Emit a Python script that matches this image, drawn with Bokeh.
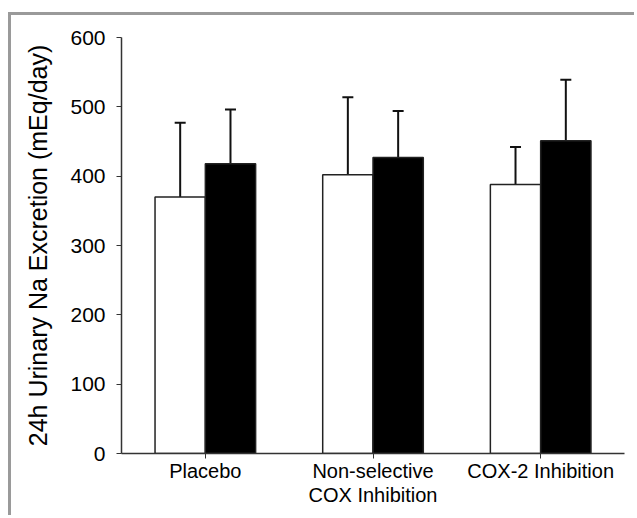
from bokeh.plotting import figure
from bokeh.models import ColumnDataSource, Whisker, TeeHead, FixedTicker
from bokeh.transform import dodge
from bokeh.embed import file_html
from bokeh.resources import INLINE

categories = ["Placebo", "Non-selective\nCOX Inhibition", "COX-2 Inhibition"]
white_vals = [370, 402, 388]
white_err = [477, 514, 442]
black_vals = [418, 427, 451]
black_err = [496, 494, 539]
y_ticks = [0, 100, 200, 300, 400, 500, 600]

src = ColumnDataSource(dict(cat=categories, w=white_vals, we=white_err,
                            b=black_vals, be=black_err))

p = figure(x_range=categories, y_range=(0, 600), width=626, height=503,
           output_backend="svg", toolbar_location=None,
           min_border_left=110, min_border_right=13, min_border_top=22,
           min_border_bottom=65)
p.styles = {"border-left": "3px solid #9a9a9a", "border-top": "3px solid #9a9a9a",
            "margin-top": "12px", "margin-left": "8px"}
p.x_range.range_padding = 0
p.outline_line_color = None
p.grid.visible = False

p.vbar(x=dodge("cat", -0.15, range=p.x_range), top="w", width=0.3, source=src,
       fill_color="white", line_color="#222222", line_width=1.5)
p.vbar(x=dodge("cat", 0.15, range=p.x_range), top="b", width=0.3, source=src,
       fill_color="black", line_color="#222222", line_width=1.5)

for off, lo, hi in [(-0.15, "w", "we"), (0.15, "b", "be")]:
    wk = Whisker(base=dodge("cat", off, range=p.x_range), lower=lo, upper=hi,
                 source=src, line_color="#111111", line_width=2,
                 upper_head=TeeHead(size=11, line_width=2, line_color="#111111"),
                 lower_head=None)
    p.add_layout(wk)

p.yaxis.ticker = FixedTicker(ticks=y_ticks)
p.yaxis.minor_tick_line_color = None
p.yaxis.major_tick_out = 5
p.yaxis.major_tick_in = 0
p.yaxis.major_label_standoff = 11
p.yaxis.major_label_text_font = "Liberation Sans"
p.yaxis.major_label_text_font_size = "21px"
p.yaxis.major_label_text_color = "black"
p.yaxis.axis_label = "24h Urinary Na Excretion (mEq/day)"
p.yaxis.axis_label_text_font = "Liberation Sans"
p.yaxis.axis_label_text_font_size = "25px"
p.yaxis.axis_label_text_font_style = "normal"
p.yaxis.axis_label_text_color = "black"
p.yaxis.axis_label_standoff = 15
p.yaxis.axis_line_color = "#333333"
p.yaxis.major_tick_line_color = "#333333"
p.yaxis.axis_line_width = 1.5

p.xaxis.major_tick_out = 5
p.xaxis.major_tick_in = 0
p.xaxis.major_label_standoff = 1
p.xaxis.major_label_text_font = "Liberation Sans"
p.xaxis.major_label_text_font_size = "20px"
p.xaxis.major_label_text_line_height = 1.1
p.xaxis.major_label_text_color = "black"
p.xaxis.axis_line_color = "#333333"
p.xaxis.major_tick_line_color = "#333333"
p.xaxis.axis_line_width = 1.5

open("out.html", "w").write(file_html(p, INLINE))
